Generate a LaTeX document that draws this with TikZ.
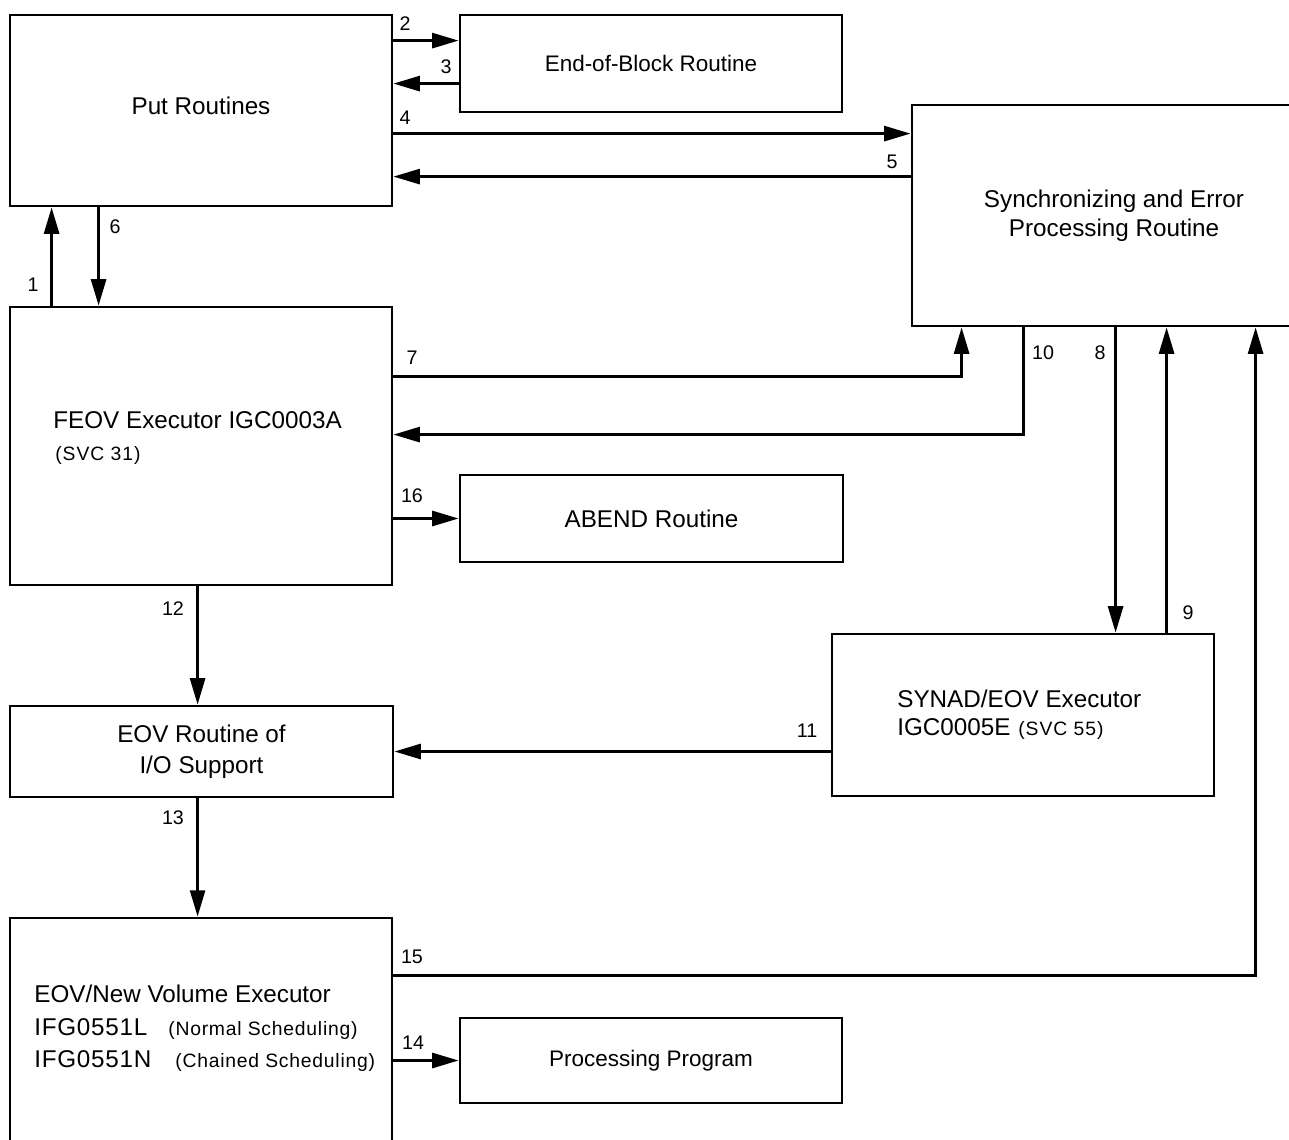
\documentclass[tikz,border=0pt]{standalone}
\usepackage{fontspec}
\setmainfont{Liberation Sans}
\usetikzlibrary{arrows.meta,calc}
\begin{document}
\begin{tikzpicture}[x=0.02cm,y=-0.02cm,
  sz/.style 2 args={minimum width=#1*0.02cm,minimum height=#2*0.02cm},
  box/.style={draw,line width=1.6pt,inner sep=0pt,align=center,
    font=\fontsize{13.8}{16.5}\selectfont},
  narrow/.style={font=\fontsize{12.8}{16}\selectfont},
  arr/.style={line width=1.6pt,-{Triangle[length=15pt,width=8.5pt]}},
  lbl/.style={font=\fontsize{11.2}{13}\selectfont,inner sep=0pt},
  body/.style={font=\fontsize{13.8}{16}\selectfont,inner sep=0pt,anchor=base west},
  small/.style={font=\fontsize{11}{13}\selectfont\addfontfeature{LetterSpace=4}},
  svc/.style={font=\fontsize{11}{13}\selectfont\addfontfeature{LetterSpace=5}},
  wide/.style={font=\fontsize{13.8}{16}\selectfont\addfontfeature{LetterSpace=3}}
]
\useasboundingbox (0,0) rectangle (1289,1140);

% boxes
\node[box,sz={382}{191}] (put)   at (201,110.5)  {\raisebox{5.6pt}{Put Routines}};
\node[box,narrow,sz={382}{97}] (eob) at (651,63.5) {End-of-Block Routine};
\node[box,sz={383}{221}] (sync)  at (1103.5,215.5) {\hspace*{12pt}Synchronizing and Error\\\hspace*{12pt}Processing Routine};
\node[box,sz={382}{278}] (feov)  at (201,446)    {};
\node[box,sz={383}{87}]  (abend) at (651.5,518.5) {ABEND Routine};
\node[box,sz={382}{162}] (synad) at (1023,715)   {};
\node[box,sz={383}{91},font=\fontsize{13.8}{17.6}\selectfont] (eovr) at (201.5,751.5) {EOV Routine of\\I/O Support};
\node[box,sz={382}{242}] (eovnv) at (201,1039)   {};
\node[box,narrow,sz={382}{85}] (pp) at (651,1060.5) {Processing Program};

% left-aligned box texts
\node[body] (feovt)  at (53,428)  {FEOV Executor IGC0003A};
\node[body,svc] (feovs) at (55,460) {(SVC 31)};
\node[body] (synt1)  at (897,707) {SYNAD/EOV Executor};
\node[body] (synt2)  at (897,735) {IGC0005E};
\node[body,svc] (synt3) at (1018,735) {(SVC 55)};
\node[body] (nvt1) at (34,1002) {EOV/New Volume Executor};
\node[body,wide] (nvt2) at (34,1035) {IFG0551L};
\node[body,small] (nvt2s) at (168,1035) {(Normal Scheduling)};
\node[body,wide] (nvt3) at (34,1067) {IFG0551N};
\node[body,small] (nvt3s) at (175,1067) {(Chained Scheduling)};

% connectors
\draw[arr] ($(put.north east)+(0,27)$) -- ($(eob.north west)+(0,27)$);
\draw[arr] ($(eob.north west)+(0,70)$) -- ($(put.north east)+(0,70)$);
\path ($(put.north east)+(0,120)$) coordinate (c4)
      ($(sync.north west)+(0,73)$) coordinate (c5);
\draw[arr] (c4) -- (c4 -| sync.west);
\draw[arr] (c5) -- (c5 -| put.east);
\draw[arr] ($(feov.north west)+(43,0)$) -- ($(put.south west)+(43,0)$);
\draw[arr] ($(put.south west)+(90,0)$) -- ($(feov.north west)+(90,0)$);
\draw[arr] ($(feov.north east)+(0,71)$) -| ($(sync.south west)+(51,0)$);
\draw[arr] ($(sync.south west)+(113,0)$) |- ($(feov.north east)+(0,129)$);
\path ($(sync.south west)+(205,0)$) coordinate (c8)
      ($(sync.south west)+(256,0)$) coordinate (c9);
\draw[arr] (c8) -- (c8 |- synad.north);
\draw[arr] (c9 |- synad.north) -- (c9);
\draw[arr] (eovr.east -| synad.west) -- (eovr.east);
\draw[arr] ($(feov.south west)+(189,0)$) -- ($(eovr.north west)+(189,0)$);
\draw[arr] ($(eovr.south west)+(189,0)$) -- ($(eovnv.north west)+(189,0)$);
\draw[arr] ($(eovnv.north east)+(0,59)$) -| ($(sync.south west)+(345,0)$);
\draw[arr] (pp.west -| eovnv.east) -- (pp.west);
\draw[arr] (abend.west -| feov.east) -- (abend.west);

% flow numbers
\node[lbl] (n1)  at (33,285)   {1};
\node[lbl] (n2)  at (405,24)   {2};
\node[lbl] (n3)  at (446,67)   {3};
\node[lbl] (n4)  at (405,118)  {4};
\node[lbl] (n5)  at (892,162)  {5};
\node[lbl] (n6)  at (115,227)  {6};
\node[lbl] (n7)  at (412,358)  {7};
\node[lbl] (n8)  at (1100,353) {8};
\node[lbl] (n9)  at (1188,613) {9};
\node[lbl] (n10) at (1043,353) {10};
\node[lbl] (n11) at (807,731)  {11};
\node[lbl] (n12) at (173,609)  {12};
\node[lbl] (n13) at (173,818)  {13};
\node[lbl] (n14) at (413,1043) {14};
\node[lbl] (n15) at (412,957)  {15};
\node[lbl] (n16) at (412,496)  {16};
\end{tikzpicture}
\end{document}
